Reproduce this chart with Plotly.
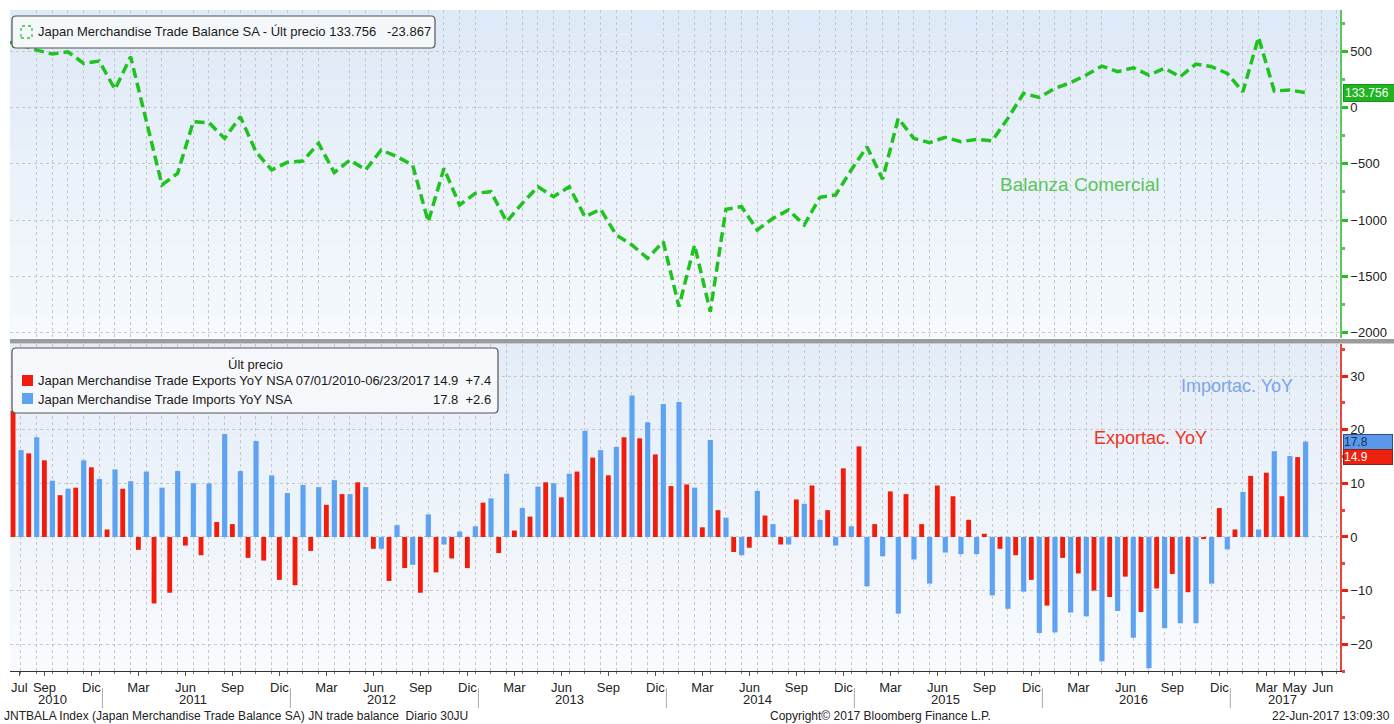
import plotly.graph_objects as go
import pandas as pd

# ---------------- data ----------------
months = [p.strftime('%Y-%m') for p in pd.period_range('2010-07', '2017-05', freq='M')]

exports = [
    23.5, 15.6, 14.3, 7.8, 9.2, 13.0,
    1.4, 9.0, -2.4, -12.4, -10.4, -1.6, -3.4, 2.8, 2.4, -3.9, -4.4, -8.0,
    -9.0, -2.6, 6.0, 8.0, 10.2, -2.2, -8.2, -5.8, -10.4, -6.6, -4.0, -5.8,
    6.4, -3.0, 1.2, 3.8, 10.2, 7.4, 12.2, 14.8, 11.5, 18.6, 18.4, 15.4,
    9.5, 9.8, 1.8, 5.0, -2.8, -2.0, 4.0, -1.4, 7.0, 9.6, 5.0, 12.8,
    16.9, 2.4, 8.5, 8.0, 2.4, 9.6, 7.6, 3.2, 0.6, -2.2, -3.4, -8.0,
    -12.8, -3.9, -6.8, -10.0, -11.2, -7.4, -14.0, -9.6, -6.9, -10.3, -0.4, 5.4,
    1.4, 11.4, 12.0, 7.6, 14.9,
]
imports = [
    16.2, 18.6, 10.5, 9.0, 14.3, 10.8,
    12.6, 10.4, 12.2, 9.2, 12.3, 10.0, 10.0, 19.2, 12.3, 17.9, 11.5, 8.2,
    9.7, 9.3, 10.6, 8.0, 9.3, -2.2, 2.2, -5.2, 4.2, -1.4, 1.0, 2.0,
    7.2, 11.8, 5.4, 9.4, 10.0, 11.8, 19.8, 16.2, 16.8, 26.4, 21.4, 24.8,
    25.2, 9.2, 18.1, 3.6, -3.4, 8.6, 2.4, -1.4, 6.2, 3.2, -1.6, 2.0,
    -9.2, -3.6, -14.3, -4.2, -8.7, -2.9, -3.2, -3.2, -10.9, -13.4, -10.2, -17.9,
    -17.8, -14.1, -14.8, -23.2, -13.8, -18.8, -24.5, -17.0, -16.1, -16.1, -8.7, -2.3,
    8.4, 1.4, 16.0, 15.1, 17.8,
]

balance_months = [p.strftime('%Y-%m') for p in pd.period_range('2010-06', '2017-05', freq='M')]
balance = [
    590,
    560, 513, 478, 498, 395, 415,
    164, 454, -125, -688, -584, -125, -133, -273, -80, -392, -554, -486,
    -474, -317, -578, -465, -554, -376, -436, -510, -1015, -540, -866, -762,
    -747, -1015, -851, -703, -792, -703, -970, -904, -1133, -1222, -1340, -1193,
    -1771, -1222, -1816, -904, -881, -1088, -985, -910, -1044, -797, -777, -554,
    -347, -636, -95, -273, -311, -264, -302, -282, -294, -95, 128, 92,
    172, 223, 291, 371, 321, 356, 291, 351, 276, 389, 365, 306,
    142, 627, 149, 157.6, 133.756,
]

tick_months = ['2010-07'] + [p.strftime('%Y-%m') for p in pd.period_range('2010-09', '2017-03', freq='3M')] + ['2017-05', '2017-06']
month_names = {1: 'Ene', 2: 'Feb', 3: 'Mar', 4: 'Abr', 5: 'May', 6: 'Jun',
               7: 'Jul', 8: 'Ago', 9: 'Sep', 10: 'Oct', 11: 'Nov', 12: 'Dic'}
years = [2010, 2011, 2012, 2013, 2014, 2015, 2016, 2017]

base = pd.Period('2010-07', freq='M')
def idx(m):
    return (pd.Period(m, freq='M') - base).n

x_m = [idx(m) for m in months]
x_bal = [idx(m) for m in balance_months]

# ---------------- layout helpers ----------------
W, H = 1394, 724
ML, MR, MT, MB = 10, 54, 10, 53
PW, PH = W - ML - MR, H - MT - MB
def fx(px): return (px - ML) / PW
def fy(py): return (H - MB - py) / PH

FONT = "Liberation Sans, Arial, sans-serif"
GREEN = '#1fc21f'
RED = '#f21c0c'
BLUE = '#5ea2f2'
GRID = '#c4c8cc'
XR = [-0.70, 84.2]

fig = go.Figure()

fig.add_trace(go.Scatter(
    x=x_bal, y=balance, mode='lines', xaxis='x', yaxis='y',
    line=dict(color=GREEN, width=3.5, dash='10px,5px'),
    name='Japan Merchandise Trade Balance SA', showlegend=False))

fig.add_trace(go.Bar(
    x=x_m, y=exports, xaxis='x2', yaxis='y2', marker=dict(color=RED, line_width=0),
    width=0.31, offset=-0.66, name='Exports YoY', showlegend=False))
fig.add_trace(go.Bar(
    x=x_m, y=imports, xaxis='x2', yaxis='y2', marker=dict(color=BLUE, line_width=0),
    width=0.33, offset=-0.16, name='Imports YoY', showlegend=False))

top_dom = [fy(338), 1.0]
bot_dom = [0.0, fy(344)]

tick_shift = {'2010-07': 0.4, '2017-05': -0.2, '2017-06': 0.6}
tickvals = [idx(m) - 0.5 + tick_shift.get(m, 0) for m in tick_months]
ticktext = [month_names[pd.Period(m, freq='M').month] for m in tick_months]

fig.update_layout(
    width=W, height=H,
    margin=dict(l=ML, r=MR, t=MT, b=MB, autoexpand=False),
    paper_bgcolor='white', plot_bgcolor='#eef4fa',
    barmode='overlay',
    font=dict(family=FONT, size=13, color='#222'),
    xaxis=dict(domain=[0, 1], range=XR, anchor='y', showticklabels=False, automargin=False,
               showgrid=False, zeroline=False, showline=False, ticks='',
               minor=dict(dtick=1, tick0=0, showgrid=True, gridcolor=GRID, griddash='dot', gridwidth=1)),
    yaxis=dict(domain=top_dom, range=[-2050, 870], side='right', anchor='x', automargin=False,
               tickvals=[-2000, -1500, -1000, -500, 0, 500],
               showgrid=True, gridcolor=GRID, griddash='dot', zeroline=False,
               showline=True, linecolor='#5cc85c', linewidth=1.5,
               ticks='outside', ticklen=6, tickwidth=3, tickcolor=GREEN,
               minor=dict(dtick=250, tick0=0, ticks='outside', ticklen=3, tickcolor='#5cc85c', showgrid=False),
               tickfont=dict(size=13, color='#222')),
    xaxis2=dict(domain=[0, 1], range=XR, anchor='y2', automargin=False,
                tickvals=tickvals, ticktext=ticktext, ticks='outside', ticklen=4, tickangle=0,
                tickcolor='#555', showgrid=False, zeroline=False,
                showline=True, linecolor='#333', linewidth=1.2,
                tickfont=dict(size=13, color='#222'),
                minor=dict(dtick=1, tick0=0, ticks='outside', ticklen=2, tickcolor='#777',
                           showgrid=True, gridcolor=GRID, griddash='dot', gridwidth=1)),
    yaxis2=dict(domain=bot_dom, range=[-25.0, 36.0], side='right', anchor='x2', automargin=False,
                tickvals=[-20, -10, 0, 10, 20, 30],
                showgrid=True, gridcolor=GRID, griddash='dot', zeroline=False,
                showline=True, linecolor='#e8463a', linewidth=1.5,
                ticks='outside', ticklen=6, tickwidth=3, tickcolor=RED,
                minor=dict(dtick=5, tick0=0, ticks='outside', ticklen=3, tickcolor='#e8463a', showgrid=False),
                tickfont=dict(size=13, color='#222')),
)

shapes = []
def gradient(xref, yref, c_top, c_bot, n=14):
    out = []
    for i in range(n):
        t = i / (n - 1)
        c = tuple(int(round(c_top[k] + (c_bot[k] - c_top[k]) * t)) for k in range(3))
        out.append(dict(type='rect', xref=xref, yref=yref,
                        x0=0, x1=1, y0=1 - (i + 1) / n, y1=1 - i / n,
                        fillcolor='rgb(%d,%d,%d)' % c, line_width=0, layer='below'))
    return out
shapes += gradient('x domain', 'y domain', (222, 234, 247), (246, 249, 253))
shapes += gradient('x2 domain', 'y2 domain', (228, 237, 248), (248, 250, 253))

shapes.append(dict(type='rect', xref='paper', yref='paper', x0=fx(10), x1=fx(1394),
                   y0=fy(343.5), y1=fy(339), fillcolor='#9c9c9c', line_width=0))

def rounded(x0, y0, x1, y1, r=4):
    X = lambda p: fx(p)
    Y = lambda p: fy(p)
    return ('M {a} {b} L {c} {b} Q {d} {b} {d} {e} L {d} {f} Q {d} {g} {c} {g} '
            'L {a} {g} Q {h} {g} {h} {f} L {h} {e} Q {h} {b} {a} {b} Z').format(
        a=X(x0 + r), b=Y(y0), c=X(x1 - r), d=X(x1), e=Y(y0 + r), f=Y(y1 - r), g=Y(y1), h=X(x0))

shapes.append(dict(type='path', xref='paper', yref='paper', path=rounded(12, 16, 435, 48),
                   fillcolor='rgba(246,248,251,0.97)', line=dict(color='#555', width=1.2)))
shapes.append(dict(type='rect', xref='paper', yref='paper', x0=fx(21), x1=fx(32), y0=fy(38), y1=fy(26),
                   line=dict(color='#3cbf3c', width=1.3, dash='dot'), fillcolor='rgba(0,0,0,0)'))
shapes.append(dict(type='path', xref='paper', yref='paper', path=rounded(12, 348, 498, 413),
                   fillcolor='rgba(246,248,251,0.97)', line=dict(color='#555', width=1.2)))
shapes.append(dict(type='rect', xref='paper', yref='paper', x0=fx(22), x1=fx(33), y0=fy(386), y1=fy(375),
                   fillcolor=RED, line_width=0))
shapes.append(dict(type='rect', xref='paper', yref='paper', x0=fx(22), x1=fx(33), y0=fy(404), y1=fy(393),
                   fillcolor=BLUE, line_width=0))

for yr in years[1:]:
    dec = idx('%d-12' % (yr - 1))
    shapes.append(dict(type='line', xref='x2', yref='paper', x0=dec + 0.2, x1=dec + 0.2,
                       y0=fy(688), y1=fy(708), line=dict(color='#aaa', width=1)))

fig.update_layout(shapes=shapes)

NB = '\u00a0'
TXT = '#1a1a1a'
LF = 13
ann = []
ann.append(dict(xref='paper', yref='paper', x=fx(36), y=fy(32), xanchor='left', yanchor='middle',
                text='Japan Merchandise Trade Balance SA - Últ precio 133.756' + NB * 3 + '-23.867',
                showarrow=False, font=dict(size=LF, color=TXT)))
ann.append(dict(xref='paper', yref='paper', x=fx(255), y=fy(365), xanchor='center', yanchor='middle',
                text='Últ precio', showarrow=False, font=dict(size=LF, color=TXT)))
ann.append(dict(xref='paper', yref='paper', x=fx(36), y=fy(381), xanchor='left', yanchor='middle',
                text='Japan Merchandise Trade Exports YoY NSA 07/01/2010-06/23/2017',
                showarrow=False, font=dict(size=LF, color=TXT)))
ann.append(dict(xref='paper', yref='paper', x=fx(36), y=fy(399), xanchor='left', yanchor='middle',
                text='Japan Merchandise Trade Imports YoY NSA',
                showarrow=False, font=dict(size=LF, color=TXT)))
ann.append(dict(xref='paper', yref='paper', x=fx(493), y=fy(381), xanchor='right', yanchor='middle',
                text='%.1f' % exports[-1] + NB * 2 + '+7.4', showarrow=False, font=dict(size=LF, color=TXT)))
ann.append(dict(xref='paper', yref='paper', x=fx(493), y=fy(399), xanchor='right', yanchor='middle',
                text='%.1f' % imports[-1] + NB * 2 + '+2.6', showarrow=False, font=dict(size=LF, color=TXT)))

ann.append(dict(xref='paper', yref='paper', x=fx(998), y=fy(184), xanchor='left', yanchor='middle',
                text='Balanza Comercial', showarrow=False, font=dict(size=19, color='#5cc45c')))
ann.append(dict(xref='paper', yref='paper', x=fx(1179), y=fy(386), xanchor='left', yanchor='middle',
                text='Importac. YoY', showarrow=False, font=dict(size=18, color='#7aa6e6')))
ann.append(dict(xref='paper', yref='paper', x=fx(1092), y=fy(438), xanchor='left', yanchor='middle',
                text='Exportac. YoY', showarrow=False, font=dict(size=18, color='#ee3424')))

ann.append(dict(xref='paper', yref='y', x=1.0, y=balance[-1], xanchor='left', yanchor='middle', xshift=3,
                text='133.756', showarrow=False, bgcolor='#20b520', bordercolor='#1a8f1a', borderwidth=1,
                borderpad=1, font=dict(size=12, color='white'), width=48, align='left'))
ann.append(dict(xref='paper', yref='y2', x=1.0, y=imports[-1], xanchor='left', yanchor='middle', xshift=3,
                text='17.8', showarrow=False, bgcolor='#5a98ea', bordercolor='#2d4f7a', borderwidth=1,
                borderpad=0, font=dict(size=12, color='#17325e'), width=48, align='left'))
ann.append(dict(xref='paper', yref='y2', x=1.0, y=exports[-1], xanchor='left', yanchor='middle', xshift=3,
                text='14.9', showarrow=False, bgcolor='#ee2010', bordercolor='#7a2a20', borderwidth=1,
                borderpad=0, font=dict(size=12, color='white'), width=48, align='left'))

for yr in years:
    ms = [i for i in range(int(XR[1]) + 1) if (base + i).year == yr]
    c = (ms[0] + ms[-1]) / 2 - 0.5
    ann.append(dict(xref='x2', yref='paper', x=c, y=fy(699), xanchor='center', yanchor='middle',
                    text=str(yr), showarrow=False, font=dict(size=13, color='#222')))

ann.append(dict(xref='paper', yref='paper', x=fx(2), y=fy(716), xanchor='left', yanchor='middle',
                text='JNTBALA Index (Japan Merchandise Trade Balance SA) JN trade balance' + NB * 2 + 'Diario 30JU',
                showarrow=False, font=dict(size=12, color='#222')))
ann.append(dict(xref='paper', yref='paper', x=fx(880), y=fy(716), xanchor='center', yanchor='middle',
                text='Copyright© 2017 Bloomberg Finance L.P.', showarrow=False, font=dict(size=12, color='#222')))
ann.append(dict(xref='paper', yref='paper', x=fx(1392), y=fy(716), xanchor='right', yanchor='middle',
                text='22-Jun-2017 13:09:30', showarrow=False, font=dict(size=12, color='#222')))

fig.update_layout(annotations=ann)

fig.write_html('out.html', config={'displayModeBar': False},
               post_script="document.body.style.margin='0';document.body.style.overflow='hidden';")
